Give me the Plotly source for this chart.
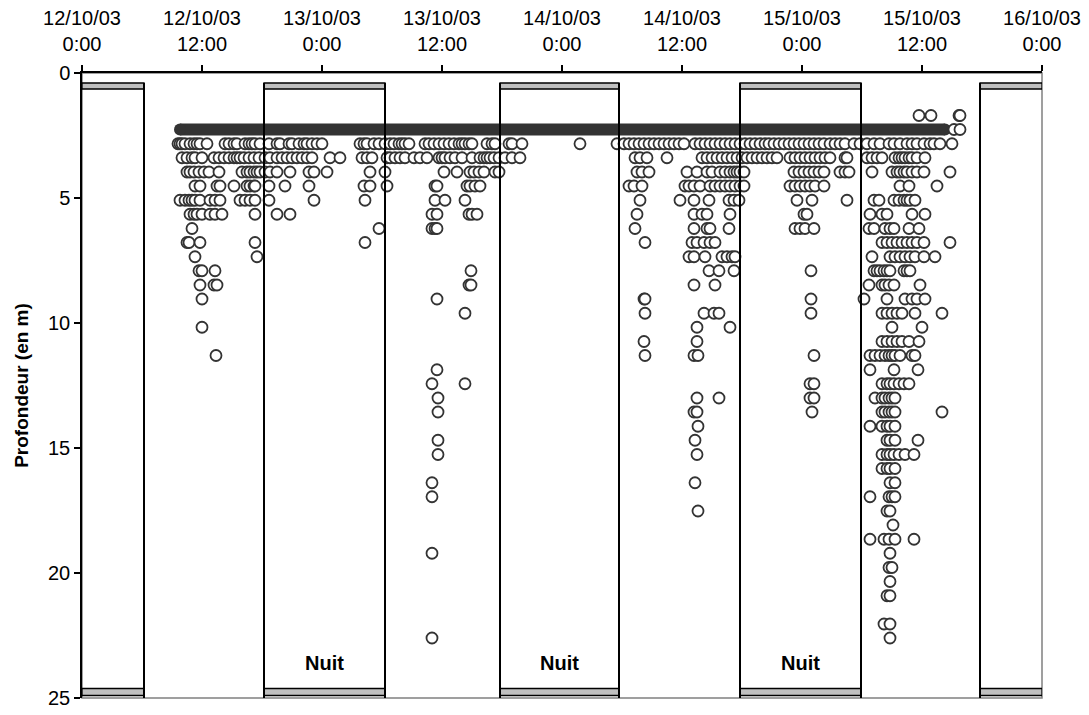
import plotly.graph_objects as go

# Time axis: hours since 12/10/03 0:00
tick_heures = [0, 12, 24, 36, 48, 60, 72, 84, 96]
tick_textes = ["12/10/03<br>0:00", "12/10/03<br>12:00", "13/10/03<br>0:00",
               "13/10/03<br>12:00", "14/10/03<br>0:00", "14/10/03<br>12:00",
               "15/10/03<br>0:00", "15/10/03<br>12:00", "16/10/03<br>0:00"]

# Nights (start, end) in hours
nuits = [(-5.8, 6.2), (18.2, 30.3), (41.8, 53.7), (65.8, 77.9), (89.8, 102.0)]

# Continuous stay at the surface layer (2.26 m): start and end hours
surface_prof = 2.26
surface_debut, surface_fin = 9.8, 86.3

# Recorded depths (m) and the hours at which each depth was recorded
profondeurs = [1.70, 2.26, 2.83, 3.39, 3.96, 4.52, 5.09, 5.65, 6.22, 6.78, 7.35,
               7.91, 8.48, 9.04, 9.61, 10.17, 10.74, 11.30, 11.87, 12.43, 13.00,
               13.56, 14.13, 14.69, 15.26, 15.82, 16.39, 16.95, 17.52, 18.08,
               18.65, 19.21, 19.78, 20.34, 20.91, 22.04, 22.60]

heures = [
    [83.7, 84.9, 87.7, 87.8],
    [87.2, 87.8],
    [9.6, 9.8, 10.0, 10.3, 10.8, 11.2, 11.5, 11.8, 12.5, 14.3, 14.7, 15.2, 15.5,
     16.3, 16.7, 17.0, 17.3, 17.8, 18.7, 19.5, 19.8, 20.7, 21.0, 21.7, 22.2, 22.5,
     23.0, 23.5, 24.0, 27.8, 28.2, 28.5, 29.2, 29.7, 30.3, 30.8, 31.2, 31.7, 32.0,
     32.3, 32.7, 34.3, 34.7, 35.2, 35.7, 36.2, 36.7, 37.2, 37.7, 38.0, 38.3, 38.7,
     39.0, 40.5, 41.0, 41.3, 42.7, 43.0, 44.0, 49.8, 53.5, 54.2, 54.7, 55.2, 55.7,
     56.2, 56.7, 57.2, 57.7, 58.2, 58.7, 59.2, 59.7, 60.2, 61.3, 61.8, 62.3, 62.8,
     63.3, 63.8, 64.3, 64.8, 65.3, 65.8, 66.3, 66.8, 67.3, 67.8, 68.3, 68.7, 69.2,
     69.7, 70.2, 70.7, 71.2, 71.7, 72.2, 72.7, 73.2, 73.7, 74.2, 74.8, 75.3, 75.8,
     76.3, 77.2, 77.8, 78.5, 79.2, 79.8, 80.7, 81.2, 81.8, 82.5, 83.0, 83.5, 84.2,
     84.8, 85.2, 85.8, 87.0],
    [10.0, 10.5, 11.0, 11.3, 12.0, 13.2, 13.7, 14.2, 14.7, 15.2, 15.5, 15.8, 16.2,
     16.7, 17.2, 17.7, 18.3, 18.8, 19.5, 20.0, 20.5, 21.0, 21.5, 22.0, 22.5, 23.0,
     24.8, 25.8, 28.0, 28.5, 29.0, 30.5, 30.8, 31.3, 31.8, 32.3, 33.2, 33.8, 34.5,
     35.7, 36.0, 36.3, 36.8, 37.3, 38.0, 39.0, 39.8, 40.2, 40.5, 40.8, 41.2, 41.7,
     42.3, 43.0, 43.8, 55.3, 55.8, 56.5, 58.5, 62.0, 62.5, 63.0, 63.5, 64.0, 64.5,
     65.0, 65.5, 66.0, 66.5, 67.0, 67.5, 68.0, 68.5, 69.0, 69.5, 70.8, 71.3, 71.8,
     72.3, 72.8, 73.3, 73.8, 74.3, 74.8, 76.3, 76.5, 78.5, 79.0, 79.5, 80.0, 81.3,
     81.7, 82.0, 82.3, 82.7, 83.0, 83.5, 84.3],
    [10.5, 10.8, 11.2, 11.7, 12.2, 12.7, 13.7, 16.0, 16.5, 16.8, 17.2, 17.5, 17.8,
     18.3, 18.8, 19.5, 20.8, 22.7, 23.2, 24.5, 28.8, 30.3, 36.2, 37.5, 38.8, 39.2,
     39.7, 40.2, 41.3, 41.7, 55.5, 56.0, 56.7, 60.5, 61.5, 62.5, 63.0, 63.8, 64.3,
     64.8, 65.2, 65.5, 65.8, 66.2, 71.2, 71.7, 72.2, 72.7, 73.2, 73.7, 74.2, 75.8,
     76.3, 76.7, 79.0, 81.0, 81.5, 81.8, 82.2, 82.5, 83.0, 83.5, 84.2, 86.8],
    [11.3, 11.8, 13.5, 13.8, 15.2, 16.5, 16.8, 17.2, 17.3, 18.7, 20.3, 22.7, 28.2,
     28.8, 30.5, 35.3, 35.5, 38.5, 38.8, 39.3, 39.8, 54.7, 55.2, 56.0, 60.3, 60.7,
     61.2, 61.8, 62.8, 63.3, 63.8, 64.3, 64.8, 65.3, 65.8, 66.2, 70.8, 71.3, 71.8,
     72.3, 72.8, 73.3, 74.2, 81.8, 82.7, 85.5],
    [9.8, 10.3, 10.7, 11.0, 11.3, 11.8, 12.8, 13.3, 13.8, 15.8, 16.3, 16.8, 17.3,
     18.7, 23.2, 28.3, 35.3, 36.3, 38.3, 55.8, 59.8, 61.2, 62.7, 64.7, 65.2, 65.7,
     71.5, 73.0, 76.5, 79.2, 79.7, 81.2, 81.7, 82.2, 82.5, 82.8, 83.3],
    [10.8, 11.2, 11.5, 12.0, 12.8, 13.3, 14.0, 17.3, 19.5, 20.8, 35.0, 35.5, 38.7,
     39.0, 39.5, 55.5, 61.2, 62.0, 62.5, 64.8, 72.2, 72.5, 78.8, 80.0, 80.5, 83.0,
     84.3],
    [11.0, 29.7, 35.0, 35.3, 35.5, 55.3, 61.2, 62.5, 62.8, 64.7, 71.3, 71.8, 72.3,
     73.2, 78.7, 79.2, 80.3, 80.8, 81.2, 82.7, 83.7],
    [10.5, 10.7, 11.8, 17.3, 28.3, 56.3, 61.0, 61.5, 62.2, 62.8, 63.3, 80.0, 80.5,
     81.0, 81.5, 82.0, 82.5, 83.0, 83.5, 84.2, 86.8],
    [11.3, 17.5, 60.7, 61.2, 62.3, 64.0, 64.5, 65.0, 65.3, 79.0, 80.8, 81.3, 81.8,
     82.3, 82.8, 83.3, 84.2, 85.3],
    [11.7, 12.0, 13.3, 38.9, 62.7, 63.7, 65.2, 72.9, 79.2, 79.5, 79.8, 80.2, 80.5,
     80.8, 82.2, 82.5, 82.8],
    [11.8, 13.2, 13.5, 38.7, 38.9, 61.2, 63.3, 78.7, 80.0, 80.3, 80.7, 81.2, 83.8],
    [12.0, 35.5, 56.2, 56.3, 72.9, 78.2, 80.5, 82.3, 83.0, 83.5, 84.3],
    [38.3, 56.3, 62.2, 63.2, 63.7, 72.9, 80.0, 80.5, 81.0, 81.5, 82.0, 83.3, 86.0],
    [12.0, 61.5, 64.8, 81.0, 84.0],
    [56.2, 61.5, 80.0, 80.5, 81.0, 81.5, 82.0, 82.7, 83.7],
    [13.4, 56.3, 61.2, 61.6, 73.2, 78.8, 79.3, 79.8, 80.3, 80.7, 81.0, 81.3, 81.8,
     83.0, 83.3],
    [35.5, 78.8, 81.2, 83.6],
    [35.0, 38.3, 72.8, 73.2, 80.0, 80.5, 80.8, 81.2, 81.7, 82.2, 82.7],
    [35.6, 61.5, 63.7, 72.8, 73.2, 79.3, 80.0, 80.3, 80.7, 81.0, 81.3],
    [35.6, 61.2, 61.5, 73.0, 80.0, 80.3, 80.7, 81.0, 81.3, 86.0],
    [61.6, 78.8, 80.0, 80.5, 80.8, 81.3],
    [35.6, 61.3, 80.5, 80.8, 81.3, 83.6],
    [35.6, 61.5, 80.0, 80.5, 80.8, 81.2, 81.7, 82.3, 83.2],
    [80.0, 80.5, 80.8, 81.3],
    [35.0, 61.3, 80.8, 81.3],
    [35.0, 78.8, 80.7, 81.0, 81.3],
    [61.6, 80.5, 80.8],
    [81.1],
    [78.8, 80.2, 80.7, 81.3, 83.2],
    [35.0, 80.8],
    [80.7, 81.0],
    [80.8],
    [80.5, 80.8],
    [80.2, 80.8],
    [35.0, 80.8],
]

X_MIN, X_MAX = 0, 96
POLICE = "Liberation Sans, Arial, sans-serif"
TRAIT = "#333333"

pts_x, pts_y = [], []
for prof, hs in zip(profondeurs, heures):
    for h in hs:
        pts_x.append(h)
        pts_y.append(prof)

fig = go.Figure()

# Long continuous presence at the surface layer
fig.add_trace(go.Scatter(
    x=[surface_debut, surface_fin], y=[surface_prof, surface_prof],
    mode="lines+markers",
    line=dict(color=TRAIT, width=12),
    marker=dict(symbol="circle", size=12, color=TRAIT),
    hoverinfo="skip", showlegend=False,
))

# Individual depth records
fig.add_trace(go.Scatter(
    x=pts_x, y=pts_y, mode="markers",
    marker=dict(symbol="circle", size=11, color="white",
                line=dict(color=TRAIT, width=1.8)),
    showlegend=False,
))

shapes = [
    # plot-area frame
    dict(type="rect", xref="paper", yref="paper", x0=0, x1=1, y0=0, y1=1,
         line=dict(color="#808080", width=1.5), layer="below"),
]
annotations = []
for debut, fin in nuits:
    a, b = max(debut, X_MIN), min(fin, X_MAX)
    # grey bars at the top and bottom of each night
    shapes.append(dict(type="rect", xref="x", yref="y", x0=a, x1=b, y0=0.40, y1=0.64,
                       fillcolor="#c0c0c0", line=dict(color="black", width=1.3),
                       layer="above"))
    shapes.append(dict(type="rect", xref="x", yref="y", x0=a, x1=b, y0=24.62, y1=24.9,
                       fillcolor="#c0c0c0", line=dict(color="black", width=1.3),
                       layer="above"))
    for bord in (debut, fin):
        if X_MIN < bord < X_MAX:
            shapes.append(dict(type="line", xref="x", yref="y", x0=bord, x1=bord,
                               y0=0.40, y1=25, line=dict(color="black", width=2),
                               layer="above"))
    if debut >= X_MIN and fin <= X_MAX:
        annotations.append(dict(x=(debut + fin) / 2, y=23.6, xref="x", yref="y",
                                text="<b>Nuit</b>", showarrow=False,
                                font=dict(family=POLICE, size=20, color="black")))

fig.update_layout(
    width=1089, height=715,
    margin=dict(l=82, r=47, t=73, b=17),
    paper_bgcolor="white", plot_bgcolor="white",
    font=dict(family=POLICE, size=20, color="black"),
    shapes=shapes, annotations=annotations,
    xaxis=dict(
        side="top", range=[X_MIN, X_MAX], automargin=False,
        tickvals=tick_heures, ticktext=tick_textes,
        ticks="outside", ticklen=6, tickwidth=1.5, tickcolor="black",
        ticklabelstandoff=6,
        showline=True, linecolor="black", linewidth=1.5,
        showgrid=False, zeroline=False,
        tickfont=dict(family=POLICE, size=20, color="black"),
    ),
    yaxis=dict(
        range=[25, 0], tickvals=[0, 5, 10, 15, 20, 25], automargin=False,
        ticks="outside", ticklen=6, tickwidth=1.5, tickcolor="black",
        showline=True, linecolor="black", linewidth=1.5,
        showgrid=False, zeroline=False,
        tickfont=dict(family=POLICE, size=20, color="black"),
        title=dict(text="<b>Profondeur (en m)</b>", standoff=14,
                   font=dict(family=POLICE, size=19, color="black")),
    ),
)

fig.write_html("out.html")
